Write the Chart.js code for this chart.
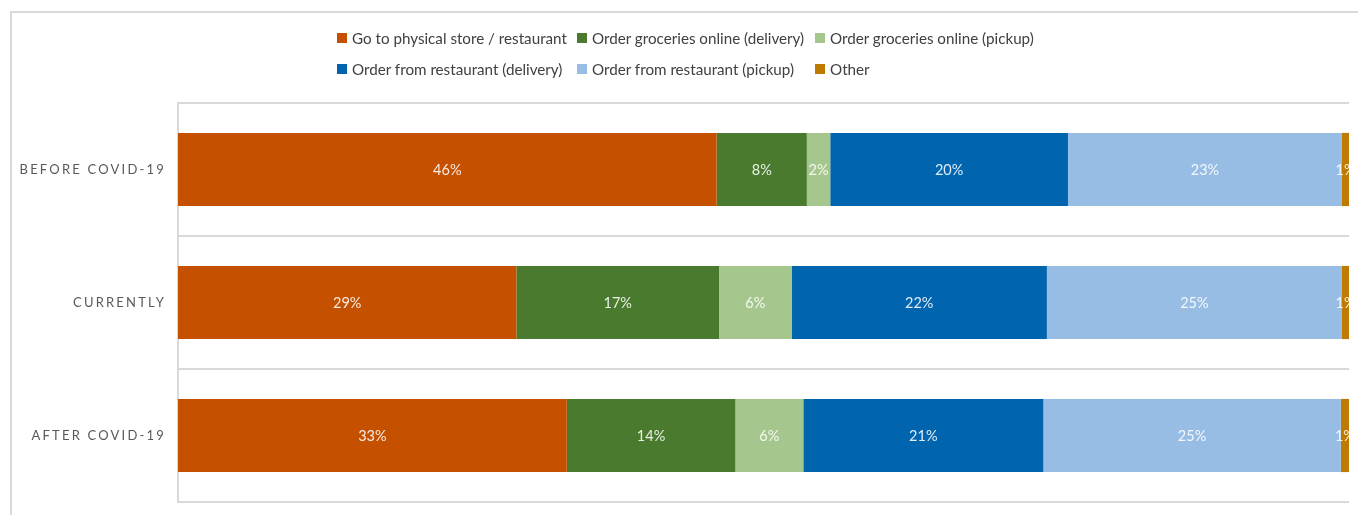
<!DOCTYPE html>
<html>
<head>
<meta charset="utf-8">
<script src="https://cdn.jsdelivr.net/npm/chart.js@4"></script>
<style>
  body { margin: 0; background: #fff; overflow: hidden; }
  #wrap { position: relative; width: 1358px; height: 515px; }
  #frame { position: absolute; left: 10px; top: 11px; width: 1400px; height: 600px;
           border: 2px solid #d9d9d9; box-sizing: border-box; }
  #chart { position: absolute; left: 0; top: 0; }
  .lg { position: absolute; font-family: Lato, "Open Sans", sans-serif; font-size: 15.2px;
        color: #404040; white-space: nowrap; line-height: 16px; }
  .lg i { position: absolute; left: 0; top: 3px; width: 10px; height: 10px; }
  .lg span { position: absolute; left: 15px; top: 0; }
</style>
</head>
<body>
<div id="wrap">
  <div id="frame"></div>
  <canvas id="chart" width="1358" height="515"></canvas>
  <div id="legend"></div>
</div>
<script>
// categories (top to bottom)
const categories = ['BEFORE COVID-19', 'CURRENTLY', 'AFTER COVID-19'];

const seriesNames = [
  'Go to physical store / restaurant',
  'Order groceries online (delivery)',
  'Order groceries online (pickup)',
  'Order from restaurant (delivery)',
  'Order from restaurant (pickup)',
  'Other'
];

// shares in %
const storeVals        = [46.0, 28.9, 33.2];
const groceryDelivery  = [7.7, 17.3, 14.4];
const groceryPickup    = [2.0, 6.2, 5.8];
const restDelivery     = [20.3, 21.8, 20.5];
const restPickup       = [23.4, 25.2, 25.4];
const otherVals        = [0.6, 0.6, 0.7];

const seriesColors = ['#c55100', '#4a7a2e', '#a5c78e', '#0064af', '#98bde5', '#bf7a00'];

const allSeries = [storeVals, groceryDelivery, groceryPickup, restDelivery, restPickup, otherVals];

// legend laid out like the excel grid (3 columns, 2 rows)
const legendCols = [337, 577, 815];
const legendRows = [30, 61];
const legendEl = document.getElementById('legend');
seriesNames.forEach((name, i) => {
  const d = document.createElement('div');
  d.className = 'lg';
  d.style.left = legendCols[i % 3] + 'px';
  d.style.top = legendRows[Math.floor(i / 3)] + 'px';
  d.innerHTML = '<i style="background:' + seriesColors[i] + '"></i><span></span>';
  d.querySelector('span').textContent = name;
  legendEl.appendChild(d);
});

const labelPlugin = {
  id: 'pctLabels',
  beforeDraw(chart) {
    chart.ctx.letterSpacing = '2.2px';
  },
  afterDatasetsDraw(chart) {
    const ctx = chart.ctx;
    ctx.save();
    ctx.letterSpacing = '0px';
    ctx.font = '14.5px Lato, "Open Sans", sans-serif';
    ctx.fillStyle = 'rgba(255,255,255,0.88)';
    ctx.textAlign = 'center';
    ctx.textBaseline = 'middle';
    chart.data.datasets.forEach((ds, di) => {
      const meta = chart.getDatasetMeta(di);
      meta.data.forEach((bar, i) => {
        const v = ds.data[i];
        ctx.fillText(Math.round(v) + '%', (bar.x + bar.base) / 2, bar.y + 1);
      });
    });
    ctx.restore();
  }
};

new Chart(document.getElementById('chart'), {
  type: 'bar',
  data: {
    labels: categories,
    datasets: allSeries.map((vals, i) => ({
      label: seriesNames[i],
      data: vals,
      backgroundColor: seriesColors[i],
      borderWidth: 0,
      categoryPercentage: 1,
      barPercentage: 0.55
    }))
  },
  options: {
    indexAxis: 'y',
    responsive: false,
    animation: false,
    layout: { padding: { top: 103, bottom: 13, left: 0, right: 9 } },
    plugins: { legend: { display: false }, tooltip: { enabled: false } },
    scales: {
      x: { stacked: true, min: 0, max: 100, display: false },
      y: {
        stacked: true,
        grid: { offset: true, drawTicks: false, color: '#d9d9d9', lineWidth: 2 },
        border: { display: true, color: '#d9d9d9', width: 2 },
        ticks: {
          padding: 12,
          color: '#595959',
          font: { family: 'Lato, "Open Sans", sans-serif', size: 13 }
        },
        afterFit(scale) {
          scale.width = 178;
          scale.paddingTop = 0;
          scale.paddingBottom = 0;
        }
      }
    }
  },
  plugins: [labelPlugin]
});
</script>
</body>
</html>
